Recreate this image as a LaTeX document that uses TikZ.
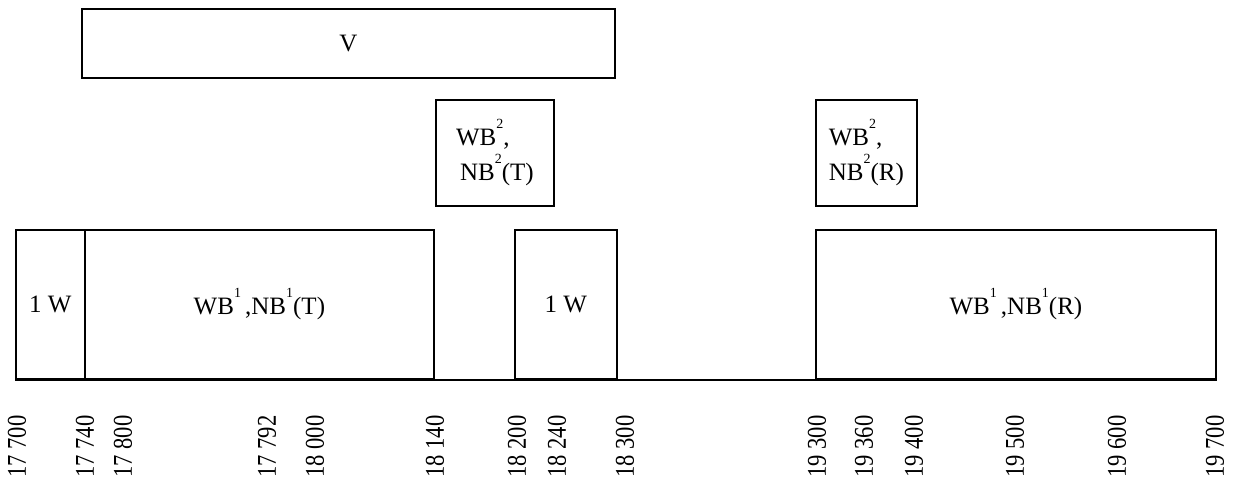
\documentclass[tikz,border=0pt]{standalone}
\usepackage{fontspec}
\setmainfont{Liberation Serif}
% raised small index sitting above the cap height
\newcommand\bandidx[1]{\raisebox{8.6pt}{\fontsize{7}{8}\selectfont #1}}
\begin{document}
\begin{tikzpicture}[x=0.5pt,y=-0.5pt,
  band/.style={draw, line width=0.9pt, inner sep=0pt, anchor=north west,
    font=\fontsize{12.5}{17.5}\selectfont, align=center},
  freq/.style={rotate=90, anchor=west, inner sep=0pt,
    font=\fontsize{11.3}{13}\selectfont},
  axisline/.style={line width=0.9pt}]
\useasboundingbox (0,0) rectangle (1234,483);

% upper bands
\node[band, minimum width=266.5pt, minimum height=34.5pt] (v) at (81,8) {V};
\node[band, minimum width=59pt, minimum height=53pt, align=left] (wbt) at (435,99)
  {WB\bandidx{2},\\\hspace{2pt}NB\bandidx{2}(T)};
\node[band, minimum width=50.5pt, minimum height=53pt, align=left] (wbr) at (815,99)
  {WB\bandidx{2},\\NB\bandidx{2}(R)};

% lower bands
\node[band, minimum width=34.5pt, minimum height=74.5pt] (wa) at (15,229) {1 W};
\node[band, minimum width=174.5pt, minimum height=74.5pt] (nbt) at (84,229)
  {WB\bandidx{1}\,,NB\bandidx{1}(T)};
\node[band, minimum width=51pt, minimum height=74.5pt] (wb) at (514,229) {1 W};
\node[band, minimum width=200pt, minimum height=74.5pt] (nbr) at (815,229)
  {WB\bandidx{1}\,,NB\bandidx{1}(R)};

% frequency axis
\draw[axisline] (wa.south west) -- (nbr.south east);

% frequency labels
\foreach \px/\f in {17/17 700, 85/17 740, 123/17 800, 267/17 792, 315/18 000,
    435/18 140, 517/18 200, 557/18 240, 625/18 300, 817/19 300, 864/19 360,
    914/19 400, 1015/19 500, 1117/19 600, 1215/19 700}
  \node[freq] (f\px) at (\px,478) {\scalebox{1}[1.2]{\f}};
\end{tikzpicture}
\end{document}
